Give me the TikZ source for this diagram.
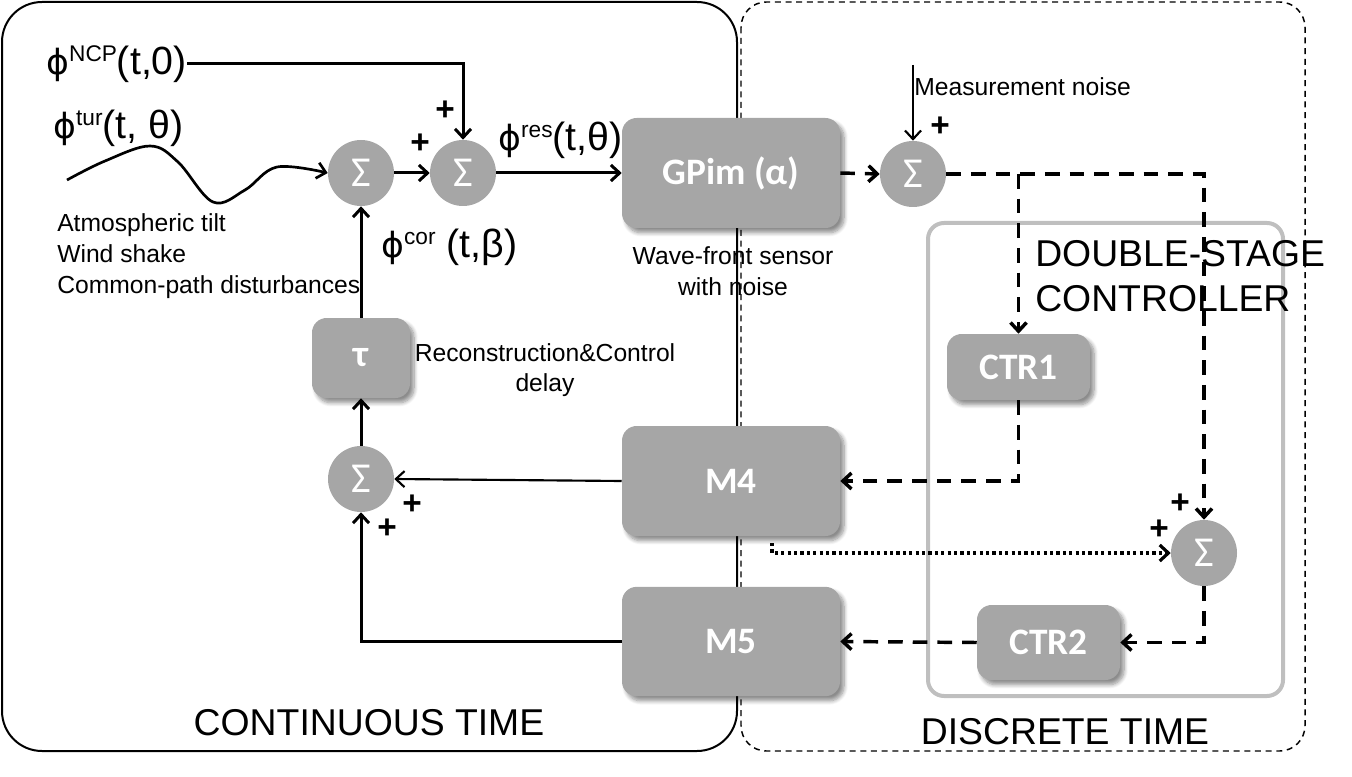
\documentclass[tikz,border=0pt]{standalone}
\usepackage{fontspec}
\setmainfont{Liberation Sans}
\newfontfamily\boxfont{Carlito}
\newfontfamily\phifont{DejaVu Sans}
\usetikzlibrary{arrows.meta,shadows.blur}
\definecolor{boxgray}{HTML}{A6A6A6}
\definecolor{framegray}{HTML}{BFBFBF}
\newcommand{\phisup}[1]{{\phifont\fontsize{26}{28}\selectfont ϕ}\raisebox{9.5pt}{\fontsize{17}{17}\selectfont #1}}
\begin{document}
\begin{tikzpicture}[x=0.75pt,y=-0.75pt,
  >={Straight Barb[length=6.5pt,width=12pt]},
  blk/.style={rectangle, rounded corners=11pt, fill=boxgray, text=white, inner sep=0pt,
    font=\boxfont\bfseries\fontsize{28}{30}\selectfont,
    blur shadow={shadow xshift=3pt, shadow yshift=-3.5pt, shadow blur radius=3pt, shadow opacity=45, shadow blur steps=8}},
  sumn/.style={circle, fill=boxgray, text=white, minimum size=49.5pt, inner sep=0pt, font=\boxfont\fontsize{32}{32}\selectfont},
  sarr/.style={->, line width=2.25pt},
  dsh/.style={->, line width=2.6pt, dash pattern=on 11pt off 7.5pt},
  dotl/.style={->, line width=2.4pt, dash pattern=on 2.4pt off 2.4pt},
  lbl/.style={font=\fontsize{18.5}{23}\selectfont, inner sep=0pt},
  big/.style={font=\fontsize{29.5}{31}\selectfont, inner sep=0pt},
  plus/.style={font=\bfseries\fontsize{25}{25}\selectfont, inner sep=0pt},
  ttl/.style={font=\fontsize{28}{33.75}\selectfont, inner sep=0pt}
]
\useasboundingbox (0,0) rectangle (1352,777);
% frames
\draw[line width=1.5pt, rounded corners=30pt] (2,2) rectangle (737,751);
\draw[line width=1.1pt, dash pattern=on 4.5pt off 3.5pt, rounded corners=19pt] (741,2) rectangle (1305,751);
\draw[framegray, line width=3pt, rounded corners=12pt] (928,223) rectangle (1283,696);

% text labels
\node[big, anchor=west] (ncp) at (46,64) {\phisup{NCP}(t,0)};
\node[big, anchor=west] (tur) at (53,128) {\phisup{tur}(t, θ)};
\node[big, anchor=west] (res) at (498,140) {\phisup{res}(t,θ)};
\node[big, anchor=west] (cor) at (381,247) {\phisup{cor} (t,β)};
\node[lbl, anchor=west, align=left] (dist) at (57,256) {Atmospheric tilt\\Wind shake\\Common-path disturbances};
\node[lbl, align=center] (wfs) at (733,271) {Wave-front sensor\\with noise};
\node[lbl, align=center] (rcd) at (545,370) {Reconstruction\&Control\\delay};
\node[lbl, anchor=west] (mn) at (914,87) {Measurement noise};
\coordinate (mntop) at (913,65);
\node[ttl, anchor=west, align=left] (dsc) at (1035,276) {DOUBLE-STAGE\\CONTROLLER};
\node[ttl] (ctt) at (369,723) {CONTINUOUS TIME};
\node[ttl] (dtt) at (1065,732) {DISCRETE TIME};

% blocks
\node[blk, minimum width=163.5pt, minimum height=82.5pt] (gpim) at (731,173) {GPim (α)};
\node[blk, minimum width=163.5pt, minimum height=82.5pt] (m4) at (731,481) {M4};
\node[blk, minimum width=163.5pt, minimum height=82pt] (m5) at (731,641.5) {M5};
\node[blk, minimum width=107.25pt, minimum height=49.5pt] (ctr1) at (1018.5,367) {CTR1};
\node[blk, minimum width=107.25pt, minimum height=56.25pt] (ctr2) at (1048.5,642.5) {CTR2};
\node[blk, minimum width=73.5pt, minimum height=60pt] (tau) at (361,358) {τ};

% sums
\node[sumn] (s1) at (361,173) {Σ};
\node[sumn] (s2) at (463,173) {Σ};
\node[sumn] (s3) at (913,174) {Σ};
\node[sumn] (s4) at (1204,553) {Σ};
\node[sumn] (s5) at (361,479) {Σ};

% plus signs
\node[plus] (p1) at (445,111) {+};
\node[plus] (p2) at (420,144) {+};
\node[plus] (p3) at (940,127) {+};
\node[plus] (p4) at (412,505) {+};
\node[plus] (p5) at (387,529) {+};
\node[plus] (p6) at (1180,504) {+};
\node[plus] (p7) at (1159,530) {+};

% connectors
\draw[sarr] (ncp.east) -| (s2.north);
\draw[->, line width=2pt] plot[smooth, tension=0.6] coordinates {(67,180) (105,161) (150,146) (178,162) (213,202) (245,190) (277,167) (s1.west)};
\draw[sarr] (s1) -- (s2);
\draw[sarr] (s2) -- (gpim.west);
\draw[dsh] (gpim.east) -- (s3.west);
\draw[->, line width=1.6pt] (mntop) -- (s3.north);
\draw[dsh] (s3.east) -| (s4.north);
\draw[dsh] (s3.east -| ctr1.north) -- (ctr1.north);
\draw[dsh] (ctr1.south) |- (m4.east);
\coordinate (dstart) at (772,543);
\draw[dotl] (dstart) |- (s4.west);
\draw[dsh] (s4.south) |- (ctr2.east);
\draw[dsh] (ctr2.west) -- (m5.east);
\draw[sarr] (m5.west) -| (s5.south);
\draw[->, line width=1.6pt] (m4.west) -- (s5.east);
\draw[sarr] (s5.north) -- (tau.south);
\draw[sarr] (tau.north) -- (s1.south);
\end{tikzpicture}
\end{document}
